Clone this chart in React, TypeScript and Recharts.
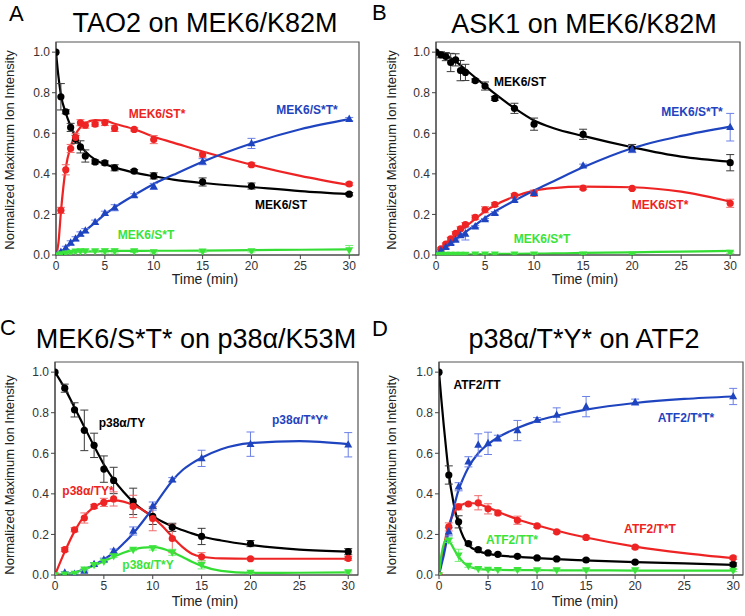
import React from "react";
import { ComposedChart, Line, Scatter, XAxis, YAxis, ErrorBar, ReferenceArea } from "recharts";

const FONT = '"Liberation Sans", Arial, Helvetica, sans-serif';

const BLACK = "#000000";
const RED = "#ee2323";
const BLUE = "#1f44bf";
const GREEN = "#3be33b";

const X_TICKS = [0, 5, 10, 15, 20, 25, 30];
const Y_TICKS = [0, 0.2, 0.4, 0.6, 0.8, 1.0];

// ---- panel A: TAO2 on MEK6/K82M ----
const TIMES_AB = [0, 0.5, 1, 1.5, 2, 2.5, 3, 4, 5, 6, 8, 10, 15, 20, 30];
const A_ST = [1.0, 0.78, 0.706, 0.629, 0.57, 0.533, 0.488, 0.459, 0.454, 0.43, 0.413, 0.39, 0.36, 0.34, 0.3];
const A_ST_ERR = [0, 0.065, 0.01, 0.02, 0.02, 0.03, 0.03, 0.01, 0.01, 0.015, 0.008, 0.015, 0.02, 0.015, 0.008];
const A_STS = [0, 0.22, 0.42, 0.525, 0.58, 0.652, 0.64, 0.645, 0.653, 0.624, 0.619, 0.569, 0.495, 0.445, 0.35];
const A_STS_ERR = [0, 0.015, 0.025, 0.02, 0.02, 0.015, 0.015, 0.01, 0.015, 0.015, 0.008, 0.02, 0.012, 0.01, 0.008];
const A_SSTS = [0, 0.015, 0.035, 0.06, 0.08, 0.104, 0.12, 0.162, 0.206, 0.233, 0.294, 0.338, 0.46, 0.55, 0.67];
const A_SSTS_ERR = [0, 0.005, 0.008, 0.01, 0.01, 0.01, 0.01, 0.01, 0.01, 0.015, 0.008, 0.015, 0.015, 0.025, 0.008];
const A_SST = [0, 0.005, 0.008, 0.012, 0.018, 0.02, 0.02, 0.02, 0.02, 0.02, 0.02, 0.015, 0.018, 0.02, 0.025];
const A_SST_ERR = [0, 0.003, 0.005, 0.005, 0.005, 0.005, 0.005, 0.005, 0.01, 0.01, 0.008, 0.005, 0.005, 0.005, 0.022];

const FIT_T_AB = [0, 0.25, 0.5, 1, 1.5, 2, 2.5, 3, 4, 5, 6, 8, 10, 12, 15, 20, 25, 30];
const A_ST_FIT = [1.0, 0.88, 0.79, 0.7, 0.635, 0.58, 0.54, 0.51, 0.47, 0.447, 0.432, 0.406, 0.388, 0.372, 0.355, 0.335, 0.315, 0.3];
const A_STS_FIT = [0, 0.06, 0.21, 0.43, 0.535, 0.595, 0.63, 0.65, 0.665, 0.663, 0.647, 0.62, 0.583, 0.554, 0.51, 0.445, 0.39, 0.345];
const A_SSTS_FIT = [0, 0.005, 0.015, 0.035, 0.058, 0.08, 0.1, 0.12, 0.16, 0.2, 0.235, 0.295, 0.35, 0.395, 0.46, 0.55, 0.62, 0.67];
const A_SST_FIT = [0, 0.003, 0.006, 0.01, 0.013, 0.015, 0.016, 0.017, 0.018, 0.019, 0.02, 0.02, 0.021, 0.021, 0.022, 0.024, 0.026, 0.028];

// ---- panel B: ASK1 on MEK6/K82M ----
const B_ST = [1.0, 0.987, 0.978, 0.949, 0.962, 0.909, 0.9, 0.86, 0.833, 0.772, 0.723, 0.645, 0.595, 0.525, 0.455];
const B_ST_ERR = [0, 0.015, 0.02, 0.045, 0.03, 0.05, 0.04, 0.008, 0.02, 0.01, 0.025, 0.03, 0.025, 0.02, 0.04];
const B_STS = [0, 0.03, 0.054, 0.079, 0.107, 0.129, 0.15, 0.186, 0.223, 0.249, 0.294, 0.305, 0.33, 0.328, 0.255];
const B_STS_ERR = [0, 0.005, 0.005, 0.008, 0.008, 0.01, 0.01, 0.01, 0.015, 0.01, 0.008, 0.015, 0.008, 0.005, 0.02];
const B_SSTS = [0, 0.021, 0.038, 0.058, 0.074, 0.096, 0.104, 0.14, 0.175, 0.206, 0.27, 0.305, 0.44, 0.52, 0.63];
const B_SSTS_ERR = [0, 0.005, 0.005, 0.005, 0.005, 0.008, 0.03, 0.005, 0.005, 0.008, 0.008, 0.01, 0.008, 0.015, 0.068];
const B_SST = [0, 0.002, 0.002, 0.002, 0.002, 0.002, 0.002, 0.003, 0.003, 0.003, 0.004, 0.004, 0.004, 0.004, 0.012];
const B_SST_ERR = [0, 0.003, 0.003, 0.003, 0.003, 0.003, 0.003, 0.003, 0.003, 0.003, 0.003, 0.003, 0.003, 0.003, 0.004];

const B_ST_FIT = [1.0, 0.998, 0.995, 0.985, 0.97, 0.955, 0.935, 0.915, 0.875, 0.835, 0.795, 0.724, 0.663, 0.625, 0.587, 0.531, 0.485, 0.46];
const B_STS_FIT = [0, 0.012, 0.025, 0.05, 0.073, 0.097, 0.118, 0.138, 0.178, 0.215, 0.245, 0.288, 0.317, 0.33, 0.337, 0.334, 0.312, 0.263];
const B_SSTS_FIT = [0, 0.01, 0.02, 0.04, 0.058, 0.077, 0.095, 0.113, 0.148, 0.183, 0.214, 0.268, 0.318, 0.364, 0.432, 0.526, 0.587, 0.633];
const B_SST_FIT = [0, 0.001, 0.001, 0.002, 0.002, 0.003, 0.003, 0.003, 0.004, 0.004, 0.005, 0.006, 0.007, 0.008, 0.01, 0.013, 0.017, 0.02];

// ---- panel C: MEK6/S*T* on p38a/K53M ----
const TIMES_CD = [0, 1, 2, 3, 4, 5, 6, 8, 10, 12, 15, 20, 30];
const C_TY = [1.0, 0.921, 0.814, 0.713, 0.639, 0.522, 0.466, 0.363, 0.289, 0.235, 0.19, 0.155, 0.115];
const C_TY_ERR = [0, 0.02, 0.035, 0.1, 0.06, 0.065, 0.065, 0.065, 0.04, 0.02, 0.04, 0.015, 0.015];
const C_TYS = [0, 0.125, 0.223, 0.281, 0.338, 0.358, 0.375, 0.338, 0.278, 0.18, 0.09, 0.08, 0.082];
const C_TYS_ERR = [0, 0.01, 0.01, 0.025, 0.01, 0.02, 0.035, 0.055, 0.06, 0.07, 0.02, 0.005, 0.01];
const C_TSYS = [0, 0.011, 0.005, 0.02, 0.053, 0.075, 0.118, 0.217, 0.34, 0.47, 0.575, 0.645, 0.642];
const C_TSYS_ERR = [0, 0.005, 0.005, 0.005, 0.008, 0.008, 0.01, 0.02, 0.02, 0.01, 0.04, 0.06, 0.06];
const C_TSY = [0, 0.003, 0.007, 0.028, 0.05, 0.066, 0.094, 0.125, 0.133, 0.112, 0.05, 0.012, 0.015];
const C_TSY_ERR = [0, 0.003, 0.003, 0.005, 0.005, 0.005, 0.008, 0.005, 0.01, 0.015, 0.02, 0.005, 0.005];

const FIT_T_C = [0, 1, 2, 3, 4, 5, 6, 7, 8, 9, 10, 11, 12, 13, 14, 15, 17, 20, 25, 30];
const C_TY_FIT = [1.0, 0.92, 0.825, 0.73, 0.635, 0.545, 0.47, 0.41, 0.36, 0.32, 0.29, 0.262, 0.24, 0.222, 0.205, 0.19, 0.17, 0.148, 0.125, 0.115];
const C_TYS_FIT = [0, 0.115, 0.215, 0.29, 0.335, 0.36, 0.368, 0.362, 0.345, 0.32, 0.285, 0.24, 0.188, 0.14, 0.105, 0.09, 0.082, 0.08, 0.08, 0.08];
const C_TSYS_FIT = [0, 0.003, 0.012, 0.028, 0.05, 0.077, 0.11, 0.155, 0.205, 0.265, 0.33, 0.4, 0.465, 0.515, 0.55, 0.578, 0.62, 0.65, 0.66, 0.645];
const C_TSY_FIT = [0, 0.003, 0.012, 0.027, 0.047, 0.068, 0.09, 0.11, 0.125, 0.135, 0.137, 0.13, 0.112, 0.09, 0.065, 0.045, 0.02, 0.01, 0.011, 0.013];

// ---- panel D: p38a/T*Y* on ATF2 ----
const D_TT = [1.0, 0.493, 0.262, 0.155, 0.125, 0.109, 0.102, 0.092, 0.084, 0.079, 0.074, 0.063, 0.052];
const D_TT_ERR = [0, 0.045, 0.03, 0.008, 0.008, 0.005, 0.005, 0.005, 0.005, 0.005, 0.005, 0.005, 0.008];
const D_TSTS = [0, 0.213, 0.435, 0.558, 0.641, 0.649, 0.674, 0.712, 0.764, 0.789, 0.83, 0.852, 0.88];
const D_TSTS_ERR = [0, 0.02, 0.02, 0.025, 0.055, 0.055, 0.015, 0.05, 0.012, 0.035, 0.05, 0.015, 0.04];
const D_TST = [0, 0.237, 0.336, 0.35, 0.356, 0.326, 0.306, 0.27, 0.242, 0.213, 0.185, 0.137, 0.085];
const D_TST_ERR = [0, 0.02, 0.015, 0.005, 0.035, 0.025, 0.01, 0.02, 0.008, 0.008, 0.008, 0.008, 0.008];
const D_TTS = [0, 0.171, 0.097, 0.046, 0.031, 0.027, 0.026, 0.026, 0.025, 0.025, 0.025, 0.024, 0.022];
const D_TTS_ERR = [0, 0.01, 0.03, 0.008, 0.005, 0.005, 0.005, 0.005, 0.005, 0.005, 0.005, 0.005, 0.005];

const FIT_T_D = [0, 0.25, 0.5, 0.75, 1, 1.5, 2, 2.5, 3, 4, 5, 6, 8, 10, 12, 15, 20, 25, 30];
const D_TT_FIT = [1.0, 0.86, 0.73, 0.61, 0.5, 0.35, 0.25, 0.185, 0.148, 0.118, 0.104, 0.097, 0.089, 0.083, 0.078, 0.072, 0.063, 0.057, 0.05];
const D_TSTS_FIT = [0, 0.05, 0.1, 0.16, 0.22, 0.33, 0.42, 0.48, 0.53, 0.6, 0.645, 0.678, 0.725, 0.76, 0.785, 0.815, 0.848, 0.868, 0.88];
const D_TST_FIT = [0, 0.07, 0.14, 0.2, 0.245, 0.305, 0.335, 0.35, 0.355, 0.35, 0.333, 0.312, 0.275, 0.245, 0.218, 0.185, 0.14, 0.108, 0.083];
const D_TTS_FIT = [0, 0.1, 0.155, 0.175, 0.17, 0.13, 0.09, 0.062, 0.043, 0.03, 0.026, 0.025, 0.024, 0.024, 0.023, 0.023, 0.022, 0.022, 0.022];

type Marker = "circle" | "up" | "down";
type Series = {
  color: string;
  bar: string;
  marker: Marker;
  times: number[];
  values: number[];
  errors: number[];
  fitT: number[];
  fit: number[];
};
type Note = { text: string; x: number; y: number; color: string };
type Panel = {
  letter: string;
  letterX: number;
  letterY: number;
  title: string;
  titleX: number;
  titleY: number;
  box: { l: number; t: number; r: number; b: number };
  yLabel: [number, number];
  xLabel: [number, number];
  series: Series[];
  notes: Note[];
};

const BAR_BLACK = "#3a3a3a";
const BAR_RED = "#f06a6a";
const BAR_BLUE = "#6b80e6";
const BAR_GREEN = "#74ee74";

function s(color: string, bar: string, marker: Marker, times: number[], values: number[], errors: number[], fitT: number[], fit: number[]): Series {
  return { color, bar, marker, times, values, errors, fitT, fit };
}

const PANELS: Panel[] = [
  {
    letter: "A", letterX: 9, letterY: 21, title: "TAO2 on MEK6/K82M", titleX: 205, titleY: 32,
    box: { l: 56, t: 42, r: 359, b: 255 }, yLabel: [13.5, 150], xLabel: [205, 284],
    series: [
      s(BLACK, BAR_BLACK, "circle", TIMES_AB, A_ST, A_ST_ERR, FIT_T_AB, A_ST_FIT),
      s(RED, BAR_RED, "circle", TIMES_AB, A_STS, A_STS_ERR, FIT_T_AB, A_STS_FIT),
      s(BLUE, BAR_BLUE, "up", TIMES_AB, A_SSTS, A_SSTS_ERR, FIT_T_AB, A_SSTS_FIT),
      s(GREEN, BAR_GREEN, "down", TIMES_AB, A_SST, A_SST_ERR, FIT_T_AB, A_SST_FIT),
    ],
    notes: [
      { text: "MEK6/ST*", x: 157, y: 118, color: RED },
      { text: "MEK6/S*T*", x: 307, y: 114, color: BLUE },
      { text: "MEK6/ST", x: 281, y: 209, color: BLACK },
      { text: "MEK6/S*T", x: 146, y: 239, color: GREEN },
    ],
  },
  {
    letter: "B", letterX: 372, letterY: 20, title: "ASK1 on MEK6/K82M", titleX: 584, titleY: 33,
    box: { l: 436, t: 42, r: 740, b: 255 }, yLabel: [395.5, 150], xLabel: [585, 284],
    series: [
      s(BLACK, BAR_BLACK, "circle", TIMES_AB, B_ST, B_ST_ERR, FIT_T_AB, B_ST_FIT),
      s(RED, BAR_RED, "circle", TIMES_AB, B_STS, B_STS_ERR, FIT_T_AB, B_STS_FIT),
      s(BLUE, BAR_BLUE, "up", TIMES_AB, B_SSTS, B_SSTS_ERR, FIT_T_AB, B_SSTS_FIT),
      s(GREEN, BAR_GREEN, "down", TIMES_AB, B_SST, B_SST_ERR, FIT_T_AB, B_SST_FIT),
    ],
    notes: [
      { text: "MEK6/ST", x: 520, y: 86, color: BLACK },
      { text: "MEK6/S*T*", x: 692, y: 116, color: BLUE },
      { text: "MEK6/ST*", x: 660, y: 209, color: RED },
      { text: "MEK6/S*T", x: 542, y: 243, color: GREEN },
    ],
  },
  {
    letter: "C", letterX: 0, letterY: 335, title: "MEK6/S*T* on p38α/K53M", titleX: 196, titleY: 348,
    box: { l: 55, t: 362, r: 358, b: 575 }, yLabel: [13.5, 475], xLabel: [205, 606],
    series: [
      s(BLACK, BAR_BLACK, "circle", TIMES_CD, C_TY, C_TY_ERR, FIT_T_C, C_TY_FIT),
      s(RED, BAR_RED, "circle", TIMES_CD, C_TYS, C_TYS_ERR, FIT_T_C, C_TYS_FIT),
      s(BLUE, BAR_BLUE, "up", TIMES_CD, C_TSYS, C_TSYS_ERR, FIT_T_C, C_TSYS_FIT),
      s(GREEN, BAR_GREEN, "down", TIMES_CD, C_TSY, C_TSY_ERR, FIT_T_C, C_TSY_FIT),
    ],
    notes: [
      { text: "p38α/TY", x: 122, y: 427, color: BLACK },
      { text: "p38α/T*Y*", x: 300, y: 424, color: BLUE },
      { text: "p38α/TY*", x: 88, y: 495, color: RED },
      { text: "p38α/T*Y", x: 148, y: 569, color: GREEN },
    ],
  },
  {
    letter: "D", letterX: 372, letterY: 336, title: "p38α/T*Y* on ATF2", titleX: 584, titleY: 348,
    box: { l: 439, t: 362, r: 743, b: 575 }, yLabel: [395.5, 475], xLabel: [585, 606],
    series: [
      s(BLACK, BAR_BLACK, "circle", TIMES_CD, D_TT, D_TT_ERR, FIT_T_D, D_TT_FIT),
      s(RED, BAR_RED, "circle", TIMES_CD, D_TST, D_TST_ERR, FIT_T_D, D_TST_FIT),
      s(BLUE, BAR_BLUE, "up", TIMES_CD, D_TSTS, D_TSTS_ERR, FIT_T_D, D_TSTS_FIT),
      s(GREEN, BAR_GREEN, "down", TIMES_CD, D_TTS, D_TTS_ERR, FIT_T_D, D_TTS_FIT),
    ],
    notes: [
      { text: "ATF2/TT", x: 477, y: 389, color: BLACK },
      { text: "ATF2/T*T*", x: 686, y: 422, color: BLUE },
      { text: "ATF2/T*T", x: 650, y: 533, color: RED },
      { text: "ATF2/TT*", x: 512, y: 544, color: GREEN },
    ],
  },
];

const Y_W = 40;
const X_H = 30;
const M_TOP = 6;
const M_RIGHT = 2;

function markerShape(kind: Marker, color: string) {
  return (props: any) => {
    const { cx, cy } = props;
    if (cx == null || cy == null) return <g />;
    if (kind === "circle") return <circle cx={cx} cy={cy} r={3.6} fill={color} />;
    if (kind === "up")
      return <path d={`M${cx},${cy - 4.5}L${cx + 4},${cy + 2.8}L${cx - 4},${cy + 2.8}Z`} fill={color} />;
    return <path d={`M${cx},${cy + 4.5}L${cx + 4},${cy - 2.8}L${cx - 4},${cy - 2.8}Z`} fill={color} />;
  };
}

const tickStyle = { fontSize: 12, fill: "#333", fontFamily: FONT };

function PanelChart({ p }: { p: Panel }) {
  const { l, t, r, b } = p.box;
  const width = Y_W + (r - l) + M_RIGHT;
  const height = M_TOP + (b - t) + X_H;
  return (
    <div style={{ position: "absolute", left: l - Y_W, top: t - M_TOP, width, height }}>
      <ComposedChart width={width} height={height} margin={{ top: M_TOP, right: M_RIGHT, bottom: 0, left: 0 }}>
        <XAxis
          type="number"
          dataKey="t"
          domain={[0, 31]}
          ticks={X_TICKS}
          allowDataOverflow
          height={X_H}
          tick={tickStyle}
          tickSize={4}
          tickLine={{ stroke: "#444" }}
          axisLine={{ stroke: "#444" }}
        />
        <YAxis
          type="number"
          dataKey="v"
          domain={[0, 1.05]}
          ticks={Y_TICKS}
          allowDataOverflow
          width={Y_W}
          tick={tickStyle}
          tickSize={4}
          tickLine={{ stroke: "#444" }}
          axisLine={{ stroke: "#444" }}
          tickFormatter={(v: number) => v.toFixed(1)}
        />
        {p.series.map((sr, i) => (
          <Line
            key={`fit-${i}`}
            data={sr.fitT.map((tt, k) => ({ t: tt, v: sr.fit[k] }))}
            dataKey="v"
            type="monotone"
            stroke={sr.color === GREEN ? "#33dd33" : sr.color}
            strokeWidth={2.2}
            dot={false}
            activeDot={false}
            isAnimationActive={false}
          />
        ))}
        {p.series.map((sr, i) => (
          <Scatter
            key={`pts-${i}`}
            data={sr.times.map((tt, k) => ({ t: tt, v: sr.values[k], e: sr.errors[k] }))}
            dataKey="v"
            fill={sr.color}
            shape={markerShape(sr.marker, sr.color)}
            isAnimationActive={false}
          >
            <ErrorBar dataKey="e" direction="y" width={4} stroke={sr.bar} strokeWidth={1} />
          </Scatter>
        ))}
        <ReferenceArea x1={0} x2={31} y1={0} y2={1.05} fill="none" stroke="#555" strokeWidth={1.2} ifOverflow="visible" />
      </ComposedChart>
    </div>
  );
}

export default function App() {
  return (
    <div
      style={{
        position: "absolute",
        left: 0,
        top: 0,
        width: 745,
        height: 616,
        background: "#fff",
        overflow: "hidden",
        fontFamily: FONT,
      }}
    >
      {PANELS.map((p) => (
        <PanelChart key={p.letter} p={p} />
      ))}
      <svg width={745} height={616} style={{ position: "absolute", left: 0, top: 0, pointerEvents: "none" }}>
        {PANELS.map((p) => (
          <g key={p.letter} fontFamily={FONT}>
            <text x={p.letterX} y={p.letterY} fontSize={22} fill="#000">
              {p.letter}
            </text>
            <text x={p.titleX} y={p.titleY} fontSize={27} textAnchor="middle" fill="#000">
              {p.title}
            </text>
            <text
              x={p.yLabel[0]}
              y={p.yLabel[1]}
              fontSize={13}
              textAnchor="middle"
              fill="#222"
              transform={`rotate(-90 ${p.yLabel[0]} ${p.yLabel[1]})`}
            >
              Normalized Maximum Ion Intensity
            </text>
            <text x={p.xLabel[0]} y={p.xLabel[1]} fontSize={14} textAnchor="middle" fill="#222">
              Time (min)
            </text>
            {p.notes.map((n) => (
              <text key={n.text} x={n.x} y={n.y} fontSize={12} fontWeight="bold" textAnchor="middle" fill={n.color}>
                {n.text}
              </text>
            ))}
          </g>
        ))}
      </svg>
    </div>
  );
}
